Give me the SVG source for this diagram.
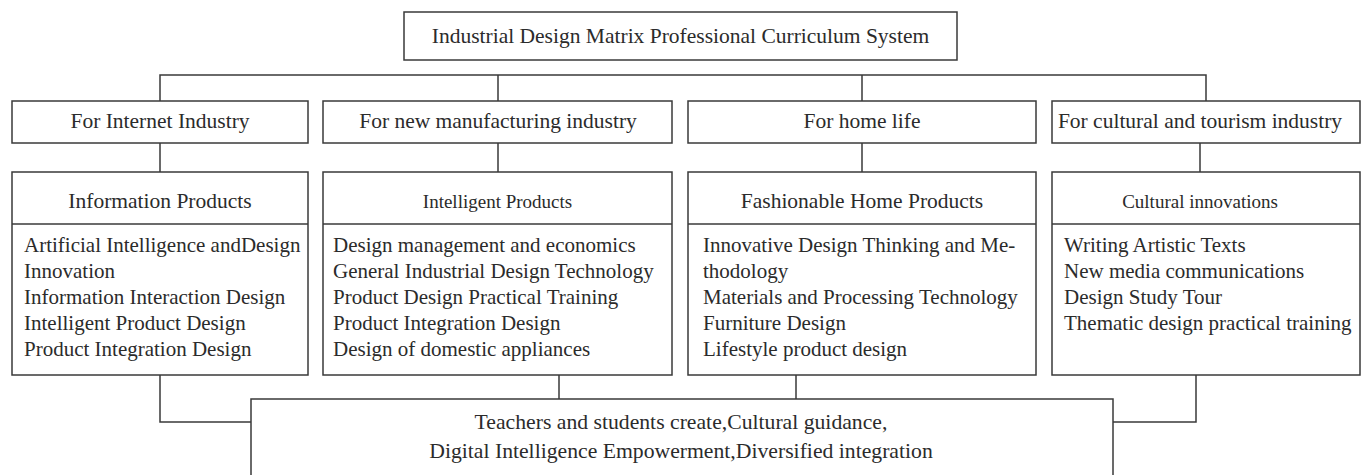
<svg xmlns="http://www.w3.org/2000/svg" width="1364" height="475" viewBox="0 0 1364 475">
<style>
.box{fill:#fff;stroke:#3a3a3a;stroke-width:1.5}
.ln{fill:none;stroke:#3a3a3a;stroke-width:1.5}
text{font-family:"Liberation Serif","Times New Roman",serif;fill:#2b2b2b}
.t{font-size:21.5px;text-anchor:middle}
.h{font-size:21.5px;text-anchor:middle}
.hs{font-size:19px;text-anchor:middle}
.c{font-size:21px}
.b{font-size:21.7px;text-anchor:middle}
</style>
<rect width="1364" height="475" fill="#fff"/>
<g id="connectors">
<path class="ln" d="M160 101V75H1206V101M498 75V101M862 75V101"/>
<path class="ln" d="M160 143V172M498 143V172M862 143V172M1200 143V172"/>
<path class="ln" d="M160 375V422H251M559 375V399M796 375V399M1196 375V422H1113"/>
</g>
<g id="root">
<rect class="box" x="404" y="12" width="553" height="48"/>
<text class="t" x="680.5" y="43" font-size="21">Industrial Design Matrix Professional Curriculum System</text>
</g>
<g id="internet">
<rect class="box" x="12" y="101" width="296" height="42"/>
<text class="t" x="160" y="128">For Internet Industry</text>
</g>
<g id="manufacturing">
<rect class="box" x="323" y="101" width="349" height="42"/>
<text class="t" x="498" y="128">For new manufacturing industry</text>
</g>
<g id="home">
<rect class="box" x="688" y="101" width="348" height="42"/>
<text class="t" x="862" y="128">For home life</text>
</g>
<g id="culture">
<rect class="box" x="1052" y="101" width="308" height="42"/>
<text class="t" x="1200" y="128">For cultural and tourism industry</text>
</g>
<g id="info-products">
<rect class="box" x="12" y="172" width="296" height="203"/>
<line class="ln" x1="12" y1="224" x2="308" y2="224"/>
<text class="h" x="160" y="208">Information Products</text>
<text class="c" x="24" y="252">Artificial Intelligence andDesign</text>
<text class="c" x="24" y="278">Innovation</text>
<text class="c" x="24" y="304">Information Interaction Design</text>
<text class="c" x="24" y="330">Intelligent Product Design</text>
<text class="c" x="24" y="356">Product Integration Design</text>
</g>
<g id="intelligent-products">
<rect class="box" x="323" y="172" width="349" height="203"/>
<line class="ln" x1="323" y1="224" x2="672" y2="224"/>
<text class="hs" x="497.5" y="208">Intelligent Products</text>
<text class="c" x="333" y="252">Design management and economics</text>
<text class="c" x="333" y="278">General Industrial Design Technology</text>
<text class="c" x="333" y="304">Product Design Practical Training</text>
<text class="c" x="333" y="330">Product Integration Design</text>
<text class="c" x="333" y="356">Design of domestic appliances</text>
</g>
<g id="home-products">
<rect class="box" x="688" y="172" width="348" height="203"/>
<line class="ln" x1="688" y1="224" x2="1036" y2="224"/>
<text class="h" x="862" y="208">Fashionable Home Products</text>
<text class="c" x="703" y="252">Innovative Design Thinking and Me-</text>
<text class="c" x="703" y="278">thodology</text>
<text class="c" x="703" y="304">Materials and Processing Technology</text>
<text class="c" x="703" y="330">Furniture Design</text>
<text class="c" x="703" y="356">Lifestyle product design</text>
</g>
<g id="cultural-innovations">
<rect class="box" x="1052" y="172" width="308" height="203"/>
<line class="ln" x1="1052" y1="224" x2="1360" y2="224"/>
<text class="hs" x="1200" y="208">Cultural innovations</text>
<text class="c" x="1064" y="252">Writing Artistic Texts</text>
<text class="c" x="1064" y="278">New media communications</text>
<text class="c" x="1064" y="304">Design Study Tour</text>
<text class="c" x="1064" y="330">Thematic design practical training</text>
</g>
<g id="integration">
<rect class="box" x="251" y="399" width="862" height="90"/>
<text class="b" x="681" y="429">Teachers and students create,Cultural guidance,</text>
<text class="b" x="681" y="458">Digital Intelligence Empowerment,Diversified integration</text>
</g>
</svg>
